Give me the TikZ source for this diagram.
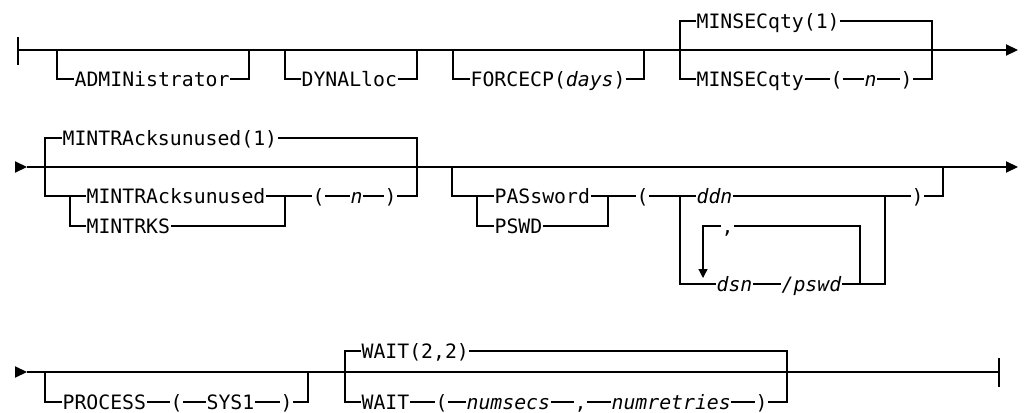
\documentclass[tikz,border=0pt]{standalone}
\usepackage{fontspec}
\newfontfamily\railfont{DejaVu Sans Mono}
\usetikzlibrary{arrows.meta}

\begin{document}
\begin{tikzpicture}[
    x=0.5pt, y=-0.5pt, line width=0.6pt,
    kw/.style={font={\railfont\fontsize{9.9pt}{11pt}\selectfont}, inner sep=0pt, text height=9.2pt, text depth=2.06pt, anchor=west},
    var/.style={kw, font={\railfont\itshape\fontsize{9.9pt}{11pt}\selectfont}},
    endtip/.style={-{Triangle[length=6pt, width=5.6pt]}},
    backtip/.style={-{Triangle[length=4.4pt, width=4.4pt]}},
    stub/.style={line width=1.3pt},
  ]
    \useasboundingbox (0,0) rectangle (1026,412);

    % Row 1
    \coordinate (s1) at (18,50);
    \coordinate (e1) at (1018,50);
    \draw (s1) ++(0,-13) -- ++(0,28);
    \draw[stub] (27,50) -- (33,50);
    \draw[endtip] (s1) -- (e1);

    \coordinate (adm-in) at (57,50);
    \coordinate (adm-out) at (249,50);
    \node[kw] (adm) at (74,79) {ADMINistrator};
    \draw (adm-in) |- (adm.west) (adm.east) -| (adm-out);

    \coordinate (dyn-in) at (285,50);
    \coordinate (dyn-out) at (417,50);
    \node[kw] (dyn) at (301,79) {DYNALloc};
    \draw (dyn-in) |- (dyn.west) (dyn.east) -| (dyn-out);

    \coordinate (fcp-in) at (453,50);
    \coordinate (fcp-out) at (644,50);
    \node[kw] (fcp) at (470,79) {FORCECP(\textit{days})};
    \draw (fcp-in) |- (fcp.west) (fcp.east) -| (fcp-out);

    \coordinate (ms-in) at (680,50);
    \coordinate (ms-out) at (932,50);
    \node[kw] (msdef) at (696,21) {MINSECqty(1)};
    \node[kw] (ms) at (696,79) {MINSECqty};
    \node[kw] (msl) at (830,79) {(};
    \node[var] (msn) at (864,79) {n};
    \node[kw] (msr) at (900,79) {)};
    \draw (ms-in) |- (msdef.west) (msdef.east) -| (ms-out);
    \draw (ms-in) |- (ms.west) (ms.east) -- (msl.west) (msl.east) -- (msn.west)
      (msn.east) -- (msr.west) (msr.east) -| (ms-out);

    % Row 2
    \coordinate (s2) at (15,167);
    \coordinate (t2) at (27,167);
    \coordinate (e2) at (1018,167);
    \draw[endtip] (s2) -- (t2);
    \draw[endtip] (t2) -- (e2);

    \coordinate (mt-in) at (45,167);
    \coordinate (mt-out) at (417,167);
    \coordinate (mt-alt) at (70,196);
    \coordinate (mt-join) at (285,196);
    \node[kw] (mtdef) at (62,138) {MINTRAcksunused(1)};
    \node[kw] (mtlong) at (86,196) {MINTRAcksunused};
    \node[kw] (mtks) at (86,226) {MINTRKS};
    \node[kw] (mtl) at (312,196) {(};
    \node[var] (mtn) at (350,196) {n};
    \node[kw] (mtr) at (384,196) {)};
    \draw (mt-in) |- (mtdef.west) (mtdef.east) -| (mt-out);
    \draw (mt-in) |- (mt-alt) -- (mtlong.west) (mt-alt) |- (mtks.west);
    \draw (mtlong.east) -- (mt-join) -- (mtl.west) (mtks.east) -| (mt-join);
    \draw (mtl.east) -- (mtn.west) (mtn.east) -- (mtr.west) (mtr.east) -| (mt-out);

    \coordinate (pw-in) at (452,167);
    \coordinate (pw-out) at (943,167);
    \coordinate (pw-alt) at (477,196);
    \coordinate (pw-join) at (608,196);
    \coordinate (ds-in) at (680,196);
    \coordinate (ds-out) at (885,196);
    \coordinate (rep-in) at (703,278);
    \coordinate (rep-out) at (860,284);
    \node[kw] (pas) at (494,196) {PASsword};
    \node[kw] (psw) at (494,226) {PSWD};
    \node[kw] (pwl) at (636,196) {(};
    \node[var] (ddn) at (696,196) {ddn};
    \node[kw] (cma) at (721,226) {,};
    \node[var] (dsn) at (716,284) {dsn};
    \node[var] (pwd) at (781,284) {/pswd};
    \node[kw] (pwr) at (911,196) {)};
    \draw (pw-in) |- (pw-alt) -- (pas.west) (pw-alt) |- (psw.west);
    \draw (pas.east) -- (pw-join) -- (pwl.west) (psw.east) -| (pw-join);
    \draw (pwl.east) -- (ds-in) -- (ddn.west) (ddn.east) -- (ds-out) -- (pwr.west);
    \draw (pwr.east) -| (pw-out);
    \draw (ds-in) |- (dsn.west) (dsn.east) -- (pwd.west) (pwd.east) -| (ds-out);
    \draw (rep-out) |- (cma.east);
    \draw[backtip] (cma.west) -| (rep-in);

    % Row 3
    \coordinate (s3) at (15,372);
    \coordinate (t3) at (27,372);
    \coordinate (e3) at (999,372);
    \draw[endtip] (s3) -- (t3);
    \draw (t3) -- (e3);
    \draw (e3) ++(0,-14) -- ++(0,29);
    \draw[stub] (793,372) -- (818,372);

    \coordinate (pr-in) at (45,372);
    \coordinate (pr-out) at (308,372);
    \node[kw] (pr) at (62,402) {PROCESS};
    \node[kw] (prl) at (170,402) {(};
    \node[kw] (sys) at (206,402) {SYS1};
    \node[kw] (prr) at (280,402) {)};
    \draw (pr-in) |- (pr.west) (pr.east) -- (prl.west) (prl.east) -- (sys.west)
      (sys.east) -- (prr.west) (prr.east) -| (pr-out);

    \coordinate (wt-in) at (345,372);
    \coordinate (wt-out) at (787,372);
    \node[kw] (wtdef) at (361,351) {WAIT(2,2)};
    \node[kw] (wt) at (361,402) {WAIT};
    \node[kw] (wtl) at (435,402) {(};
    \node[var] (nsec) at (466,402) {numsecs};
    \node[kw] (wtc) at (574,402) {,};
    \node[var] (nret) at (611,402) {numretries};
    \node[kw] (wtr) at (755,402) {)};
    \draw (wt-in) |- (wtdef.west) (wtdef.east) -| (wt-out);
    \draw (wt-in) |- (wt.west) (wt.east) -- (wtl.west) (wtl.east) -- (nsec.west)
      (nsec.east) -- (wtc.west) (wtc.east) -- (nret.west) (nret.east) -- (wtr.west)
      (wtr.east) -| (wt-out);
  \end{tikzpicture}
\end{document}
